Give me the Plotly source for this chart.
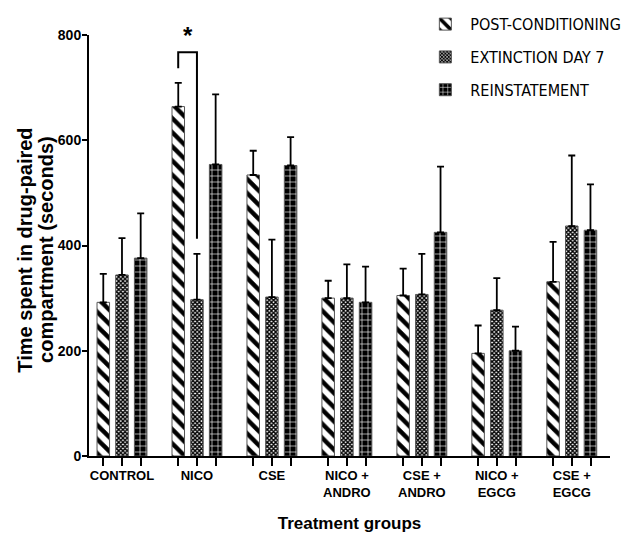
import plotly.graph_objects as go

groups = ["CONTROL", "NICO", "CSE", "NICO +<br>ANDRO", "CSE +<br>ANDRO", "NICO +<br>EGCG", "CSE +<br>EGCG"]
group_idx = [0, 1, 2, 3, 4, 5, 6]

post_cond = [292, 664, 534, 300, 305, 195, 331]
post_cond_err = [54, 45, 46, 33, 51, 53, 76]
extinction = [344, 297, 302, 300, 307, 277, 437]
extinction_err = [70, 87, 109, 64, 77, 61, 134]
reinstatement = [376, 554, 552, 292, 425, 200, 429]
reinstatement_err = [85, 133, 54, 68, 125, 46, 87]

FONT = "Liberation Sans, Arial, sans-serif"
NARROW = "DejaVu Sans Condensed, Liberation Sans, sans-serif"

fig = go.Figure()

series = [
    ("POST-CONDITIONING", post_cond, post_cond_err,
     dict(shape="\\", fgcolor="black", bgcolor="white", size=10, solidity=0.45)),
    ("EXTINCTION DAY 7", extinction, extinction_err,
     dict(shape="x", fgcolor="black", bgcolor="white", size=3, solidity=0.7)),
    ("REINSTATEMENT", reinstatement, reinstatement_err,
     dict(shape="+", fgcolor="white", bgcolor="black", size=6, solidity=0.2)),
]

for name, vals, errs, pat in series:
    fig.add_trace(go.Bar(
        x=group_idx,
        y=vals,
        name=name,
        legendgroup=name,
        marker=dict(color="white", pattern=dict(fillmode="replace", **pat),
                    line=dict(color="#555555", width=1)),
        error_y=dict(type="data", array=errs, arrayminus=[0] * len(errs),
                     symmetric=False, color="black", thickness=1.8, width=3.5),
    ))

# significance bracket between NICO post-conditioning and extinction
fig.add_shape(type="path", xref="x", yref="y",
              path="M 0.75 737 L 0.75 767 L 1.0 767 L 1.0 413",
              line=dict(color="black", width=2))
fig.add_annotation(x=0.875, y=800, xref="x", yref="y", text="*",
                   showarrow=False,
                   font=dict(size=24, family=FONT, color="black", weight="bold"))

# y-axis title as two rotated lines (tighter line spacing than <br>)
for xp, line in [(-0.123, "Time spent in drug-paired"), (-0.084, "compartment (seconds)")]:
    fig.add_annotation(x=xp, y=0.49, xref="paper", yref="paper", text=line,
                       textangle=-90, showarrow=False, xanchor="center", yanchor="middle",
                       font=dict(size=20, family=FONT, color="black", weight="bold"))

bar_ticks = [g + d for g in group_idx for d in (-0.25, 0, 0.25)]

# the page body adds an 8px margin at top/left, so the figure is 8px smaller
fig.update_layout(
    width=621, height=525,
    margin=dict(l=81, r=19, t=27, b=77, autoexpand=False),
    plot_bgcolor="white", paper_bgcolor="white",
    barmode="group", bargap=0.252, bargroupgap=0.33,
    font=dict(family=FONT, color="black"),
    showlegend=True,
    legend=dict(x=0.636, y=1.066, xanchor="left", yanchor="top",
                traceorder="grouped", tracegroupgap=9, itemwidth=40,
                font=dict(size=16, family=NARROW), bgcolor="rgba(0,0,0,0)"),
    xaxis=dict(
        range=[-0.44, 6.51], tickvals=group_idx, ticktext=groups,
        ticks="", showline=True, linecolor="black", linewidth=2,
        tickfont=dict(size=13, family=FONT, weight="bold"),
        ticklabelstandoff=6,
        minor=dict(tickvals=bar_ticks, ticks="outside", ticklen=8,
                   tickwidth=2, tickcolor="black"),
        title=dict(text="Treatment groups",
                   font=dict(size=17, weight="bold"), standoff=28),
        zeroline=False, showgrid=False, automargin=False,
    ),
    yaxis=dict(
        range=[0, 800], tickvals=[0, 200, 400, 600, 800],
        ticks="outside", ticklen=5, tickwidth=2, tickcolor="black",
        showline=True, linecolor="black", linewidth=2,
        tickfont=dict(size=14, family=FONT, weight="bold"),
        ticklabelstandoff=-2,
        zeroline=False, showgrid=False, automargin=False,
    ),
)

fig.write_html("out.html")
